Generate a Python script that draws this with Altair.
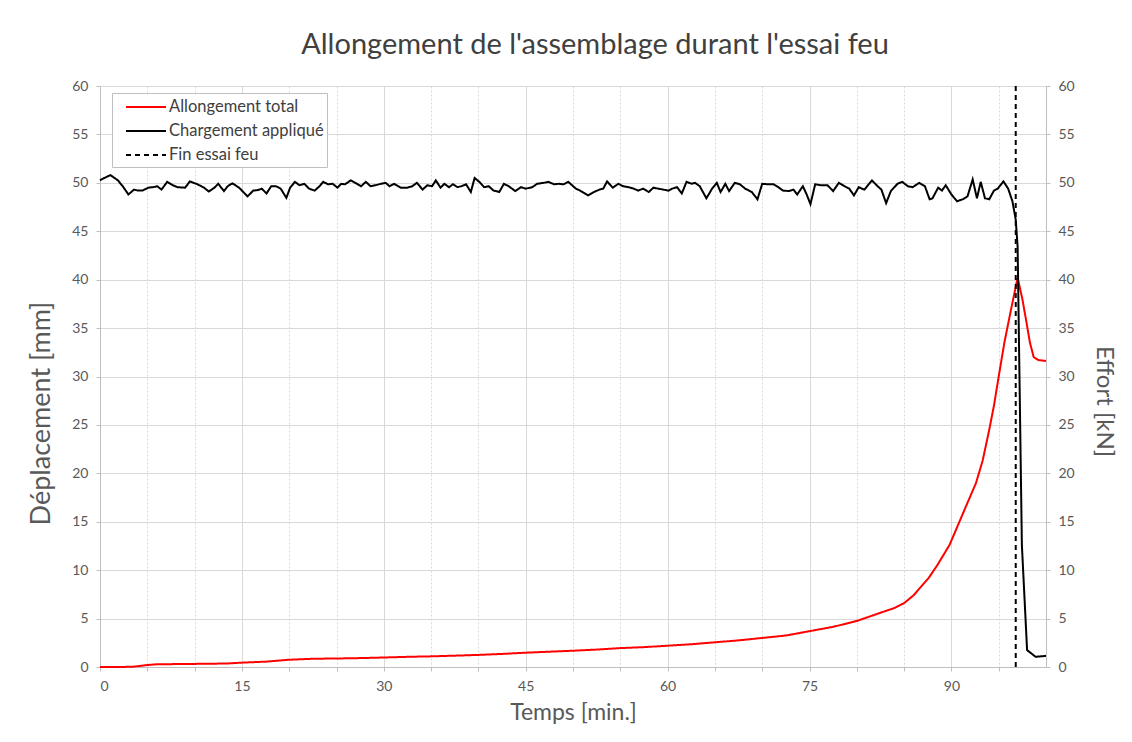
import altair as alt
import pandas as pd

FONT = "Lato"
TXT = "#595959"
GRID = "#d9d9d9"

# Allongement total (mm) vs temps (min)
red_t = [0, 2, 3.5, 5, 6, 10, 13.4, 15, 17.5, 20, 22.5, 25, 27.5, 30, 32.5, 35, 37.5, 40,
         42.5, 45, 47.5, 50, 52.5, 55, 57.5, 60, 62.5, 65, 67.5, 70, 72.5, 75, 77.5, 80,
         82.5, 84, 85, 86, 87.6, 88.5, 89.8, 90.5, 91.5, 92.6, 93.3, 94.0, 94.5, 95.0,
         95.6, 96.3, 97.0, 97.5, 97.9, 98.3, 98.7, 99.2, 100]
red_v = [0, 0.0, 0.03, 0.2, 0.28, 0.32, 0.36, 0.45, 0.55, 0.75, 0.85, 0.88, 0.92, 0.98,
         1.05, 1.1, 1.17, 1.25, 1.35, 1.48, 1.58, 1.68, 1.8, 1.95, 2.05, 2.2, 2.35, 2.55,
         2.75, 3.0, 3.25, 3.7, 4.15, 4.75, 5.6, 6.1, 6.6, 7.4, 9.2, 10.5, 12.6, 14.2, 16.5,
         19.0, 21.3, 24.5, 27.0, 30.0, 33.5, 36.9, 40.2, 38.0, 35.8, 33.5, 32.0, 31.7, 31.6]

# Chargement appliqué (kN) vs temps (min)
blk_t = [0, 0.15, 1.1, 1.9, 2.4, 3.0, 3.6, 4.0, 4.5, 5.1, 5.6, 6.05, 6.5, 7.1, 7.7, 8.2, 9.0,
         9.5, 10.3, 11.0, 11.5, 12.1, 12.5, 13.1, 13.5, 14.0, 14.7, 15.6, 16.2, 16.7, 17.1,
         17.6, 18.1, 18.6, 19.1, 19.7, 20.1, 20.6, 21.1, 21.6, 22.1, 22.7, 23.2, 23.6, 24.1,
         24.6, 25.1, 25.5, 25.9, 26.5, 27.0, 27.6, 28.1, 28.6, 29.1, 29.7, 30.2, 30.6, 31.1,
         31.8, 32.5, 33.0, 33.5, 34.1, 34.6, 35.1, 35.5, 36.0, 36.4, 36.9, 37.3, 37.8, 38.2,
         38.7, 39.2, 39.6, 40.1, 40.6, 41.1, 41.6, 42.2, 42.7, 43.2, 43.9, 44.5, 45.0, 45.7,
         46.2, 46.9, 47.4, 48.0, 48.5, 49.0, 49.5, 50.3, 50.75, 51.6, 52.2, 52.8, 53.2, 53.6,
         54.2, 54.8, 55.3, 55.9, 56.4, 56.9, 57.4, 58.0, 58.5, 59.0, 59.55, 60.1, 60.5, 61.0,
         61.5, 62.0, 62.55, 62.9, 63.4, 64.1, 64.7, 65.2, 65.6, 66.1, 66.5, 67.1, 67.65, 68.2,
         68.9, 69.5, 70.0, 70.6, 71.2, 71.7, 72.2, 72.85, 73.3, 73.7, 74.3, 74.7, 75.1, 75.6,
         76.2, 76.9, 77.5, 78.1, 78.7, 79.2, 79.7, 80.2, 80.8, 81.6, 82.2, 82.6, 83.1, 83.6,
         84.3, 84.8, 85.4, 85.9, 86.6, 87.2, 87.7, 88.0, 88.6, 89.0, 89.4, 90.0, 90.6, 91.2,
         91.7, 92.25, 92.7, 93.1, 93.55, 94.0, 94.5, 94.9, 95.5, 96.0, 96.45, 96.8, 97.0,
         97.45, 98.0, 98.9, 100]
blk_v = [50.25, 50.35, 50.8, 50.25, 49.65, 48.8, 49.3, 49.2, 49.2, 49.5, 49.55, 49.65, 49.3,
         50.1, 49.75, 49.55, 49.5, 50.15, 49.85, 49.5, 49.1, 49.5, 49.9, 49.15, 49.65, 49.95,
         49.5, 48.6, 49.2, 49.25, 49.4, 48.9, 49.65, 49.65, 49.4, 48.45, 49.5, 50.1, 49.75,
         49.9, 49.4, 49.2, 49.65, 50.1, 49.85, 49.9, 49.5, 49.9, 49.85, 50.25, 50.0, 49.65,
         50.1, 49.65, 49.75, 49.9, 50.0, 49.65, 49.9, 49.5, 49.5, 49.65, 50.0, 49.3, 49.75,
         49.65, 50.25, 49.5, 49.9, 49.55, 49.85, 49.55, 49.65, 49.85, 49.05, 50.5, 50.1, 49.55,
         49.65, 49.2, 49.05, 49.9, 49.65, 49.15, 49.55, 49.4, 49.55, 49.9, 50.0, 50.1, 49.85,
         49.9, 49.85, 50.1, 49.4, 49.2, 48.7, 49.05, 49.3, 49.4, 50.15, 49.5, 49.9, 49.65,
         49.55, 49.4, 49.2, 49.4, 49.05, 49.5, 49.4, 49.3, 49.2, 49.4, 49.55, 48.9, 50.1, 49.9,
         50.0, 49.65, 48.4, 49.4, 50.0, 49.05, 49.9, 49.15, 50.0, 49.85, 49.4, 49.05, 48.3,
         49.9, 49.85, 49.85, 49.55, 49.2, 49.15, 49.3, 48.8, 49.65, 48.8, 47.8, 49.85, 49.75,
         49.75, 49.15, 50.0, 49.65, 49.4, 48.7, 49.55, 49.3, 50.25, 49.65, 49.3, 47.9, 49.15,
         49.9, 50.1, 49.65, 49.55, 50.0, 49.65, 48.3, 48.4, 49.5, 49.2, 49.75, 48.8, 48.1, 48.3,
         48.6, 50.35, 48.4, 50.1, 48.4, 48.3, 49.2, 49.4, 50.15, 49.4, 48.1, 46.2, 43.4, 12.6,
         1.75, 1.05, 1.15]

fin_t = [96.8, 96.8]
fin_v = [0, 60]

series = ["Allongement total", "Chargement appliqué", "Fin essai feu"]

red_df = pd.DataFrame({"t": red_t, "v": red_v, "serie": series[0]})
blk_df = pd.DataFrame({"t": blk_t, "v": blk_v, "serie": series[1]})
fin_df = pd.DataFrame({"t": fin_t, "v": fin_v, "serie": series[2]})

xscale = alt.Scale(domain=[0, 100], nice=False)
yscale = alt.Scale(domain=[0, 60], nice=False)

color = alt.Color("serie:N", scale=alt.Scale(domain=series, range=["#ff0000", "#000000", "#000000"]),
                  legend=alt.Legend(title=None, orient="none", legendX=12, legendY=7,
                                    symbolType="M-2,0H2", symbolSize=400, symbolStrokeWidth=2,
                                    symbolOffset=20,
                                    labelFont=FONT, labelFontSize=16.5, labelColor="#404040",
                                    strokeColor="#bfbfbf", fillColor="white", padding=3,
                                    rowPadding=4, labelOffset=12, labelLimit=300))
dash = alt.StrokeDash("serie:N", scale=alt.Scale(domain=series, range=[[1, 0], [1, 0], [5, 4]]),
                      legend=None)

xaxis = alt.Axis(values=list(range(0, 100, 5)), title="Temps [min.]",
                 labelExpr="datum.value % 15 === 0 ? datum.label : ''",
                 grid=True, gridColor=GRID, gridDash={"expr": "datum.value % 15 === 0 ? [] : [2, 2]"},
                 domainColor="#bfbfbf", tickColor="#bfbfbf", tickSize=4,
                 labelFont=FONT, labelFontSize=14, labelColor=TXT, labelPadding=8,
                 titleFont=FONT, titleFontSize=23, titleFontWeight="normal", titleColor=TXT,
                 titlePadding=8)
yaxis_l = alt.Axis(values=[i * 2.5 for i in range(25)], title="Déplacement  [mm]",
                   labelExpr="datum.value % 5 === 0 ? datum.label : ''",
                   grid=True, gridColor=GRID, gridDash={"expr": "datum.value % 5 === 0 ? [] : [2, 2]"},
                   domainColor="#bfbfbf", tickColor="#bfbfbf", tickSize=4,
                   labelFont=FONT, labelFontSize=14, labelColor=TXT, labelPadding=8,
                   titleFont=FONT, titleFontSize=27, titleFontWeight="normal", titleColor=TXT,
                   titlePadding=16, titleY=327)
yaxis_r = alt.Axis(values=list(range(0, 61, 5)), title="Effort  [kN]", orient="right", grid=False,
                   domainColor="#bfbfbf", tickColor="#bfbfbf", tickSize=4,
                   labelFont=FONT, labelFontSize=14, labelColor=TXT, labelPadding=8,
                   titleFont=FONT, titleFontSize=24, titleFontWeight="normal", titleColor=TXT,
                   titlePadding=17, titleY=315)

red = alt.Chart(red_df).mark_line(strokeWidth=2).encode(
    x=alt.X("t:Q", scale=xscale, axis=xaxis),
    y=alt.Y("v:Q", scale=yscale, axis=yaxis_l),
    color=color, strokeDash=dash)

fin = alt.Chart(fin_df).mark_line(strokeWidth=2).encode(
    x=alt.X("t:Q", scale=xscale),
    y=alt.Y("v:Q", scale=yscale),
    color=color, strokeDash=dash)

left = alt.layer(red, fin)

blk = alt.Chart(blk_df).mark_line(strokeWidth=2).encode(
    x=alt.X("t:Q", scale=xscale),
    y=alt.Y("v:Q", scale=yscale, axis=yaxis_r),
    color=color, strokeDash=dash)

chart = alt.layer(left, blk).resolve_scale(y="independent").properties(
    width=946, height=581,
    autosize=alt.AutoSizeParams(type="none"),
    padding={"left": 92, "top": 78, "right": 78, "bottom": 66},
    background="white",
    title=alt.Title("Allongement de l'assemblage durant l'essai feu", font=FONT, fontSize=29,
                    fontWeight="normal", color="#404040", anchor="middle", offset=19, dx=22),
).configure_view(stroke=None)

chart.save("out.html", embed_options={"renderer": "svg", "actions": False})
